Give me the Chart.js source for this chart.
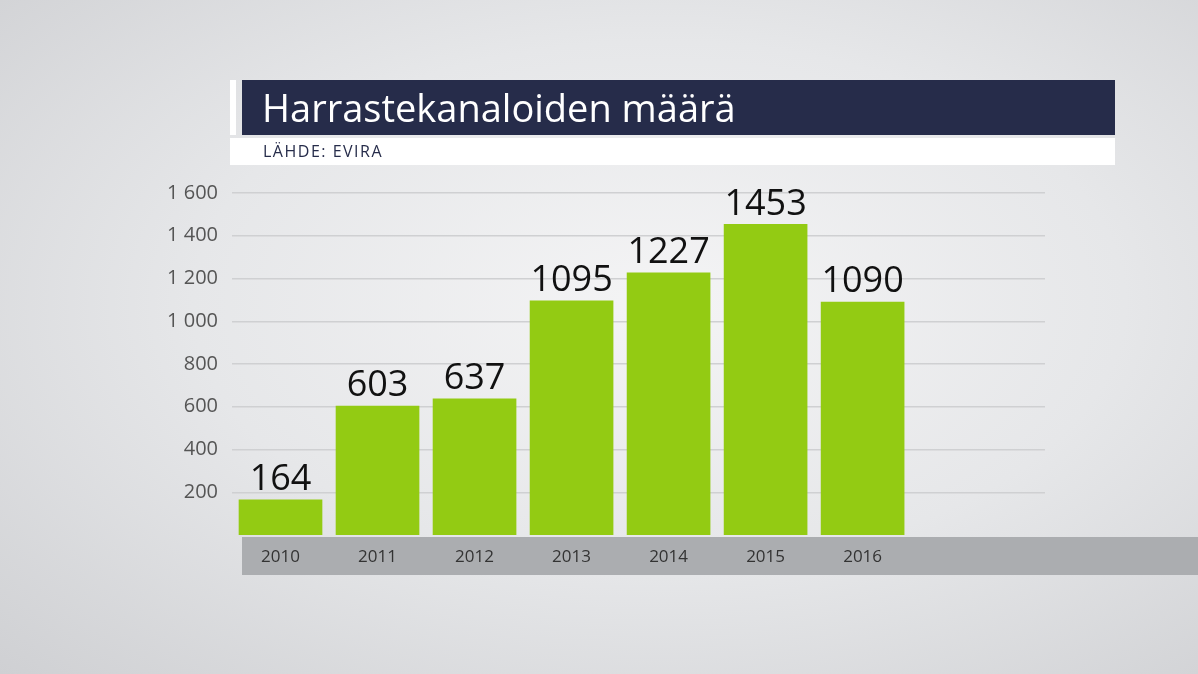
<!DOCTYPE html>
<html><head><meta charset="utf-8">
<script src="https://cdn.jsdelivr.net/npm/chart.js@4"></script>
<style>
html,body{margin:0;padding:0;}
body{width:1198px;height:674px;overflow:hidden;position:relative;font-family:"Open Sans",sans-serif;
background:radial-gradient(ellipse at 55% 45%, #f4f4f5 0%, #e6e7e9 50%, #cfd0d3 100%);}
#band{position:absolute;left:242px;top:537px;width:956px;height:38px;background:#abadb0;}
#wrap{position:absolute;left:0;top:0;width:1198px;height:674px;}
#stripe{position:absolute;left:230px;top:80px;width:6px;height:55px;background:#fff;}
#title{position:absolute;left:242px;top:80px;width:873px;height:55px;background:#262c4a;color:#fff;font-size:38px;line-height:55px;padding-left:20px;box-sizing:border-box;}
#sub{position:absolute;left:230px;top:138px;width:885px;height:27px;background:#fff;color:#262c4a;font-size:16px;line-height:27px;padding-left:33px;box-sizing:border-box;letter-spacing:1.5px;}
</style></head><body>
<div id="band"></div>
<div id="wrap"><canvas id="c" width="1198" height="674"></canvas></div>
<div id="stripe"></div>
<div id="title">Harrastekanaloiden määrä</div>
<div id="sub">LÄHDE: EVIRA</div>
<script>
const years=["2010","2011","2012","2013","2014","2015","2016"];
const values=[164,603,637,1095,1227,1453,1090];
const yTicks=[200,400,600,800,1000,1200,1400,1600];
const fmt=v=>String(v).replace(/\B(?=(\d{3})+(?!\d))/g," ");
const labelsPlugin={id:"lbl",afterDatasetsDraw(ch){
 const c=ch.ctx,xs=ch.scales.x,ys=ch.scales.y;c.save();
 c.textAlign="center";
 values.forEach((v,i)=>{const x=xs.getPixelForValue(i);
  c.fillStyle="#111";c.font="36px 'Open Sans'";c.textBaseline="bottom";
  c.fillText(String(v),x,ys.getPixelForValue(v)-2);
  c.fillStyle="#333";c.font="17px 'Open Sans'";c.textBaseline="middle";
  c.fillText(years[i],x,557);});
 c.restore();}};
new Chart(document.getElementById("c"),{type:"bar",
 data:{datasets:[{data:values.map((v,i)=>({x:i,y:v})),backgroundColor:"#93cb13",barThickness:83}]},
 options:{responsive:false,animation:false,
  layout:{padding:{top:193,bottom:139,right:153,left:0}},
  plugins:{legend:{display:false},tooltip:{enabled:false}},
  scales:{
   x:{type:"linear",min:-0.5,max:7.88,display:false,offset:false},
   y:{min:0,max:1600,afterFit(s){s.width=232;},
    afterBuildTicks(s){s.ticks=yTicks.map(v=>({value:v}));},
    border:{display:false},
    grid:{color:"#cfd0d2",lineWidth:1.5,drawTicks:false},
    ticks:{padding:14,color:"#555",font:{size:20,family:"Open Sans"},callback:v=>fmt(v)}}}},
 plugins:[labelsPlugin]});
</script></body></html>
